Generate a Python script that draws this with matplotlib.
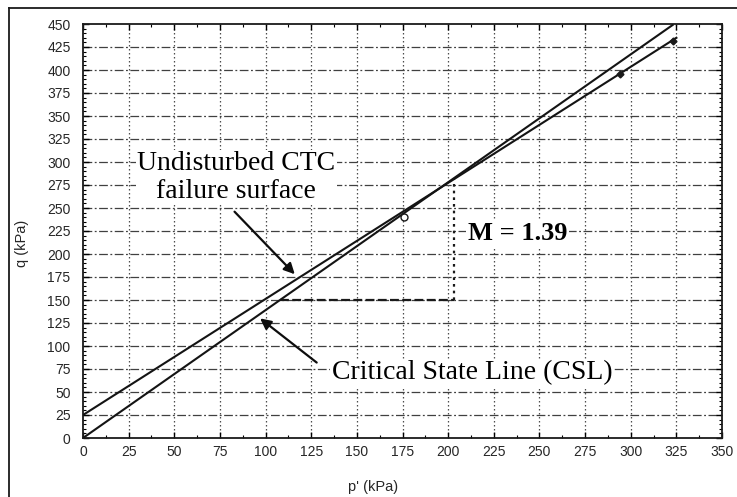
import matplotlib.pyplot as plt
import numpy as np
from matplotlib.lines import Line2D
from matplotlib.ticker import MultipleLocator

# p'-q plane, kPa
M = 1.39
csl_p = np.array([0, 323])
csl_q = M * csl_p

ctc_p = np.array([0, 325])
ctc_q = np.array([25, 435])

test_p = [176, 294, 323]
test_q = [240, 396, 432]

# slope triangle under the CSL
tri_p = [108, 203]
tri_q = 150

x_ticks = np.arange(0, 351, 25)
y_ticks = np.arange(0, 451, 25)

fig = plt.figure(figsize=(7.37, 4.97), dpi=100)
ax = fig.add_axes([83 / 737, 1 - 438 / 497, 639 / 737, 414 / 497])

ax.set_xlim(0, 350)
ax.set_ylim(0, 450)
ax.set_xticks(x_ticks)
ax.set_yticks(y_ticks)
ax.xaxis.set_minor_locator(MultipleLocator(12.5))
ax.yaxis.set_minor_locator(MultipleLocator(5))
ax.tick_params(which='both', direction='in', top=True, right=True)
ax.tick_params(which='major', length=4, width=1)
ax.tick_params(which='minor', length=2.5, width=0.8)
ax.tick_params(axis='x', pad=5)
ax.tick_params(axis='y', pad=9)
for lab in ax.get_xticklabels() + ax.get_yticklabels():
    lab.set_family('Liberation Sans')
    lab.set_fontsize(10)
    lab.set_color('0.15')
for s in ax.spines.values():
    s.set_linewidth(1.3)
    s.set_color('0.1')

# grid: dash-dot across, dotted up
for y in y_ticks[1:-1]:
    ax.axhline(y, color='0.25', lw=0.9, ls=(0, (7, 2, 1.5, 2)), zorder=1)
for x in x_ticks[1:-1]:
    ax.axvline(x, color='0.3', lw=0.9, ls=(0, (1.2, 2)), zorder=1)

ax.plot(ctc_p, ctc_q, color='0.08', lw=1.5, zorder=3)
ax.plot(csl_p, csl_q, color='0.08', lw=1.5, zorder=3)
ax.plot(test_p[0], test_q[0], 'o', mfc='white', mec='0.1', ms=5, zorder=4)
ax.plot(test_p[1:], test_q[1:], 'D', color='0.1', ms=3.5, zorder=4)

ax.plot(tri_p, [tri_q, tri_q], color='0.1', lw=1.6, ls=(0, (4, 1.5)), zorder=2)
ax.plot([tri_p[1], tri_p[1]], [tri_q, M * tri_p[1]], color='0.1', lw=1.6,
        ls=(0, (1.2, 1.8)), zorder=2)

serif = 'Liberation Serif'
arrow = dict(arrowstyle='-|>', color='0.05', lw=1.6, mutation_scale=16,
             shrinkA=0, shrinkB=0)
ax.text(84, 283, 'Undisturbed CTC\nfailure surface', ha='center', va='center',
        family=serif, fontsize=20, linespacing=1.15,
        bbox=dict(fc='white', ec='none', pad=1), zorder=5)
ax.annotate('', xy=(116, 178), xytext=(83, 246), arrowprops=arrow, zorder=5)
ax.annotate('', xy=(97, 130), xytext=(128, 82), arrowprops=arrow, zorder=5)
ax.text(213, 71, 'Critical State Line (CSL)', ha='center', va='center',
        family=serif, fontsize=20, bbox=dict(fc='white', ec='none', pad=1), zorder=5)
ax.text(238, 222, 'M = 1.39', ha='center', va='center', family=serif,
        fontsize=19, fontweight='bold', bbox=dict(fc='white', ec='none', pad=1), zorder=5)

ax.set_xlabel("p' (kPa)", family='Liberation Sans', fontsize=10.5, color='0.15', va='center')
ax.set_ylabel('q (kPa)', family='Liberation Sans', fontsize=10.5, color='0.15', va='center')
ax.xaxis.set_label_coords(0.454, -0.118)
ax.yaxis.set_label_coords(-0.095, 0.47)

# outer frame
fig.add_artist(Line2D([9 / 737, 9 / 737], [0, 1 - 8 / 497], color='0.1', lw=1.3))
fig.add_artist(Line2D([9 / 737, 1], [1 - 8 / 497, 1 - 8 / 497], color='0.1', lw=1.3))

fig.savefig('out.png', dpi=100)
